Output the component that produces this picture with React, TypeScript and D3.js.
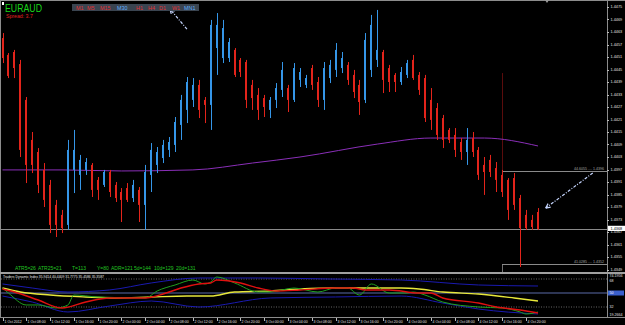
import React from "react";
import * as d3 from "d3";

const W = 625;
const H = 325;

const symbol = "EURAUD";
const spreadText = "Spread: 3.7";
const timeframes = ["M1", "M5", "M15", "M30", "H1", "H4", "D1", "W1", "MN1"];
const activeTimeframes = ["M30", "MN1"];

const open = [1.44601,1.44520,1.44534,1.44476,1.44304,1.44112,1.44054,1.43968,1.43896,1.43800,1.43752,1.43704,1.43968,1.43944,1.43968,1.43992,1.43920,1.43896,1.43958,1.43896,1.43862,1.43881,1.43833,1.43872,1.43800,1.43944,1.43992,1.44025,1.44064,1.44088,1.44184,1.44256,1.44304,1.44376,1.44304,1.44280,1.44553,1.44505,1.44505,1.44544,1.44496,1.44486,1.44376,1.44328,1.44313,1.44256,1.44304,1.44352,1.44361,1.44304,1.44400,1.44376,1.44457,1.44390,1.44304,1.44409,1.44448,1.44457,1.44472,1.44424,1.44376,1.44304,1.44448,1.44496,1.44534,1.44457,1.44424,1.44390,1.44424,1.44496,1.44424,1.44409,1.44304,1.44265,1.44217,1.44160,1.44136,1.44102,1.44054,1.44121,1.44064,1.43992,1.44016,1.43977,1.43944,1.43920,1.43929,1.43833,1.43752,1.43728,1.43766];
const high = [1.44625,1.44529,1.44544,1.44496,1.44318,1.44150,1.44073,1.44001,1.43920,1.43824,1.43776,1.44112,1.44160,1.44040,1.44025,1.44001,1.43934,1.43968,1.43968,1.43910,1.43881,1.43905,1.43920,1.43886,1.43992,1.44097,1.44078,1.44112,1.44126,1.44222,1.44328,1.44414,1.44409,1.44400,1.44318,1.44688,1.44721,1.44688,1.44601,1.44553,1.44505,1.44496,1.44400,1.44361,1.44328,1.44318,1.44385,1.44486,1.44376,1.44481,1.44457,1.44424,1.44472,1.44414,1.44486,1.44496,1.44577,1.44534,1.44486,1.44448,1.44400,1.44625,1.44712,1.44736,1.44544,1.44472,1.44433,1.44462,1.44496,1.44520,1.44438,1.44424,1.44361,1.44289,1.44232,1.44169,1.44169,1.44121,1.44169,1.44150,1.44078,1.44030,1.44040,1.44006,1.43968,1.43929,1.43953,1.43848,1.43776,1.43752,1.43785];
const low = [1.44481,1.44409,1.44409,1.44030,1.43905,1.43953,1.43857,1.43790,1.43665,1.43646,1.43665,1.43680,1.43857,1.43872,1.43944,1.43838,1.43824,1.43886,1.43838,1.43814,1.43718,1.43814,1.43814,1.43718,1.43680,1.43862,1.43953,1.44001,1.44030,1.44054,1.44112,1.44193,1.44270,1.44217,1.44193,1.44160,1.44424,1.44481,1.44486,1.44414,1.44414,1.44265,1.44256,1.44208,1.44222,1.44217,1.44265,1.44318,1.44246,1.44294,1.44366,1.44361,1.44352,1.44270,1.44256,1.44385,1.44414,1.44433,1.44376,1.44313,1.44232,1.44289,1.44414,1.44462,1.44337,1.44342,1.44342,1.44376,1.44409,1.44400,1.44328,1.44198,1.44160,1.44112,1.44073,1.44097,1.44030,1.44016,1.43992,1.44030,1.43920,1.43848,1.43934,1.43862,1.43838,1.43728,1.43776,1.43502,1.43680,1.43680,1.43680];
const close = [1.44505,1.44419,1.44457,1.44064,1.43992,1.43992,1.43896,1.43824,1.43704,1.43704,1.43689,1.44064,1.44064,1.44016,1.44006,1.43872,1.43872,1.43958,1.43862,1.43833,1.43824,1.43824,1.43896,1.43800,1.43958,1.44064,1.44054,1.44088,1.44102,1.44198,1.44304,1.44390,1.44376,1.44256,1.44280,1.44664,1.44664,1.44649,1.44582,1.44424,1.44438,1.44304,1.44313,1.44256,1.44270,1.44304,1.44361,1.44448,1.44304,1.44457,1.44438,1.44409,1.44376,1.44304,1.44457,1.44472,1.44544,1.44505,1.44400,1.44342,1.44294,1.44592,1.44664,1.44544,1.44400,1.44390,1.44390,1.44438,1.44481,1.44409,1.44352,1.44217,1.44208,1.44136,1.44112,1.44112,1.44064,1.44054,1.44112,1.44054,1.43944,1.43958,1.43958,1.43920,1.43862,1.43776,1.43800,1.43689,1.43689,1.43694,1.43684];

const priceLabels = [1.4475,1.4469,1.4463,1.4457,1.4451,1.4445,1.4439,1.4433,1.4427,1.4421,1.4415,1.4409,1.4403,1.4397,1.4391,1.4385,1.4379,1.4373,1.4367,1.4361,1.4355,1.4349];

const timeLabelBars = [0,4,8,12,16,20,24,28,32,36,40,44,48,52,56,60,64,68,72,76,80,84,88];
const timeLabels = ["1 Oct 2012","1 Oct 08:00","1 Oct 12:00","1 Oct 16:00","1 Oct 20:00","2 Oct 00:00","2 Oct 04:00","2 Oct 08:00","2 Oct 12:00","2 Oct 16:00","2 Oct 20:00","3 Oct 00:00","3 Oct 04:00","3 Oct 08:00","3 Oct 12:00","3 Oct 16:00","3 Oct 20:00","4 Oct 00:00","4 Oct 04:00","4 Oct 08:00","4 Oct 12:00","4 Oct 16:00","4 Oct 20:00"];

const maBars = [0,10,20,32,42,50,63,72,81,90];
const maValues = [1.43968,1.43968,1.43963,1.43968,1.44001,1.44030,1.44092,1.44121,1.44121,1.44083];

const currentPrice = 1.43684;
const boxStartBar = 84;
const boxTopPrice = 1.43963;
const boxBottomPrice = 1.43516;
const separatorTopPrice = 1.44433;
const boxTopLabel = "44.6055 ....  1.4396";
const boxBottomLabel = "41.0285 ....  1.4352";

// arrows: [tailBar, tailPrice, headBar, headPrice]
const arrow1 = [31.0, 1.44644, 28.15, 1.4474];
const arrow2 = [99.2, 1.43953, 91.3, 1.43785];

const infoItems = ["ATR5=26", "ATR25=21", "T=113", "Y=80", "ADR=121", "5d=144", "10d=129", "20d=131"];
const tdiTitle = "Traders Dynamic Index 35.9414 40.4409 31.7775 35.4586 35.3587";
const tdiLevels = [68, 50, 32];
const tdiMax = "74.1956";
const tdiMin = "19.2664";

const greenBars = [0,1,4,6,9,11,12,16,24,26,29,32,34,35,36,39,43,45,49,53,56,58,60,62,65,68,69,71,74,80,84,87,88,90];
const greenVals = [56.4,50.0,34.6,34.6,30.7,34.6,47.4,44.9,43.6,52.6,60.3,66.7,61.6,64.1,70.6,62.9,51.3,51.3,56.4,51.3,56.4,56.4,47.4,61.6,50.0,50.0,51.3,47.4,38.4,32.0,30.7,25.6,23.0,25.6];
const redBars = [0,2,6,10,14,18,24,27,30,33,35,36,40,43,46,50,56,59,61,65,70,72,74,80,83,87,90];
const redVals = [55.1,51.3,41.0,30.7,38.4,43.6,43.6,48.7,56.4,61.6,62.9,66.7,62.9,56.4,52.6,53.9,56.4,56.4,53.9,53.9,50.0,50.0,43.6,37.1,32.0,28.1,24.3];
const yellowBars = [0,3,8,14,19,25,31,35,39,45,50,56,61,67,70,74,80,86,90];
const yellowVals = [56.4,51.3,47.4,44.9,43.6,44.9,46.1,46.1,51.3,52.6,55.1,56.4,56.4,56.4,55.1,51.3,48.7,43.6,39.7];
const upperBars = [0,5,11,18,25,33,43,55,67,80,90];
const upperVals = [61.6,56.4,51.3,53.9,62.9,69.3,69.3,68.0,66.7,60.3,59.0];
const lowerBars = [0,5,11,18,25,33,45,56,67,74,80,90];
const lowerVals = [46.1,38.4,25.6,33.3,39.7,32.0,43.6,44.9,46.1,37.1,29.4,23.0];

const RED = "#e3241b";
const BLUE = "#3596e8";
const FONT = "'Liberation Sans', Arial, sans-serif";

export default function App() {
  const x = d3.scaleLinear().domain([0, 90]).range([2.5, 538]);
  const y = d3.scaleLinear().domain([priceLabels[0], priceLabels[priceLabels.length - 1]]).range([7, 269.5]);
  const ys = d3.scaleLinear().domain([tdiLevels[2], tdiLevels[0]]).range([307, 279]);
  const px = (i: number) => Math.round(x(i));

  const maPath = d3.line<number>().x((_, i) => x(maBars[i])).y((d) => y(d)).curve(d3.curveMonotoneX)(maValues) || "";
  const sub = (bars: number[], vals: number[]) =>
    d3.line<number>().x((_, i) => x(bars[i])).y((d) => ys(d)).curve(d3.curveMonotoneX)(vals) || "";

  const arrow = (a: number[], key: string) => {
    const tx = x(a[0]), ty = y(a[1]), hx = x(a[2]), hy = y(a[3]);
    const ang = Math.atan2(ty - hy, tx - hx);
    const L = 5, s = 0.45;
    return (
      <g key={key} stroke="#c6d6ff" strokeWidth={1.2} fill="none">
        <line x1={tx} y1={ty} x2={hx} y2={hy} strokeDasharray="3,1.5,1,1.5" />
        <line x1={hx} y1={hy} x2={hx + L * Math.cos(ang + s)} y2={hy + L * Math.sin(ang + s)} />
        <line x1={hx} y1={hy} x2={hx + L * Math.cos(ang - s)} y2={hy + L * Math.sin(ang - s)} />
      </g>
    );
  };

  const tfX = [76, 87, 100, 117, 136, 148, 159, 172, 184];
  const infoX = [15, 38, 72, 97, 111, 134, 154, 176];
  const bx = px(boxStartBar);
  const cpY = y(currentPrice);

  return (
    <svg width={W} height={H} style={{ position: "fixed", left: 0, top: 0, display: "block" }} fontFamily={FONT}>
      <defs>
        <clipPath id="mainClip"><rect x={1} y={1} width={606} height={271} /></clipPath>
        <clipPath id="subClip"><rect x={1} y={274} width={606} height={43} /></clipPath>
      </defs>
      <rect width={W} height={H} fill="#000" />

      {/* borders */}
      <rect x={0} y={0} width={W} height={1} fill="#8c8c8c" />
      <rect x={0} y={0} width={1} height={317} fill="#8c8c8c" />
      <rect x={607} y={0} width={1} height={317} fill="#8c8c8c" />
      <rect x={0} y={272} width={W} height={2} fill="#a0a0a0" />
      <rect x={0} y={317} width={W} height={1} fill="#8c8c8c" />

      <g clipPath="url(#mainClip)">
        {/* separator + box lines */}
        <rect x={bx} y={y(separatorTopPrice)} width={1} height={y(boxTopPrice) - y(separatorTopPrice)} fill="#5a0c0c" />
        <rect x={bx} y={y(boxBottomPrice)} width={1} height={272 - y(boxBottomPrice)} fill="#707070" />
        <rect x={bx} y={Math.round(y(boxTopPrice))} width={607 - bx} height={1} fill="#8a8a8a" />
        <rect x={bx} y={Math.round(y(boxBottomPrice))} width={607 - bx} height={1} fill="#8a8a8a" />
        {/* price line */}
        <rect x={0} y={Math.round(cpY)} width={607} height={1} fill="#8a8a8a" />
        {/* moving average */}
        <path d={maPath} fill="none" stroke="#8a2fb8" strokeWidth={1} />
        {/* bars */}
        {open.map((o, i) => {
          const c = close[i];
          const col = c >= o ? BLUE : RED;
          const cx = px(i);
          const yt = y(Math.max(o, c));
          const yb = y(Math.min(o, c));
          return (
            <g key={i}>
              <rect x={cx} y={y(high[i])} width={1} height={y(low[i]) - y(high[i])} fill={col} />
              <rect x={cx - 1} y={yt} width={2} height={Math.max(1, yb - yt)} fill={col} />
            </g>
          );
        })}
        {arrow(arrow1, "a1")}
        {arrow(arrow2, "a2")}
        <text x={604} y={y(boxTopPrice) - 1.2} fontSize={3.6} fill="#a8a8a8" textAnchor="end">{boxTopLabel}</text>
        <text x={604} y={y(boxBottomPrice) - 1.2} fontSize={3.6} fill="#a8a8a8" textAnchor="end">{boxBottomLabel}</text>
      </g>

      {/* header */}
      <rect x={2} y={2} width={2} height={3} fill="#fff" />
      <text x={5} y={11.7} fontSize={10.5} fill="#19d419" textLength={37} lengthAdjust="spacingAndGlyphs">{symbol}</text>
      <text x={6} y={17.5} fontSize={5.2} fill="#e02020">{spreadText}</text>
      <rect x={72} y={4} width={127} height={7} fill="#3a4450" />
      {timeframes.map((t, i) => (
        <text key={t} x={tfX[i]} y={9.8} fontSize={5.4} fill={activeTimeframes.includes(t) ? "#5ab0ff" : "#e23030"}>{t}</text>
      ))}
      <path d="M545,0 L549,0 L547,3 Z" fill="#9a9a9a" />

      {/* right price axis */}
      {priceLabels.map((p) => (
        <g key={p}>
          <rect x={607} y={Math.round(y(p))} width={2} height={1} fill="#bbb" />
          <text x={610.5} y={y(p) + 1.4} fontSize={3.8} fill="#e0e0e0">{p.toFixed(4)}</text>
        </g>
      ))}
      <rect x={608} y={cpY - 3.3} width={17} height={5.2} fill="#fff" />
      <text x={610.5} y={cpY + 0.9} fontSize={3.8} fill="#000">{currentPrice.toFixed(4)}</text>

      {/* info row */}
      {infoItems.map((t, i) => (
        <text key={t} x={infoX[i]} y={270.3} fontSize={5} fill="#22c422">{t}</text>
      ))}

      {/* TDI sub panel */}
      <g clipPath="url(#subClip)">
        <line x1={1} x2={607} y1={ys(tdiLevels[0])} y2={ys(tdiLevels[0])} stroke="#808080" strokeDasharray="1,1.5" strokeWidth={0.8} />
        <line x1={1} x2={607} y1={ys(tdiLevels[2])} y2={ys(tdiLevels[2])} stroke="#808080" strokeDasharray="1,1.5" strokeWidth={0.8} />
        <line x1={1} x2={607} y1={ys(tdiLevels[1])} y2={ys(tdiLevels[1])} stroke="#5a6aa8" strokeWidth={1} />
        <path d={sub(upperBars, upperVals)} fill="none" stroke="#1a1ab0" strokeWidth={1} />
        <path d={sub(lowerBars, lowerVals)} fill="none" stroke="#1a1ab0" strokeWidth={1} />
        <path d={sub(yellowBars, yellowVals)} fill="none" stroke="#e8e83a" strokeWidth={1.4} />
        <path d={sub(greenBars, greenVals)} fill="none" stroke="#1fa01f" strokeWidth={1} />
        <path d={sub(redBars, redVals)} fill="none" stroke="#e01010" strokeWidth={1.4} />
      </g>
      <text x={3} y={277.8} fontSize={3.4} fill="#e8e8e8">{tdiTitle}</text>
      <text x={609.5} y={277.2} fontSize={3.6} fill="#e0e0e0">{tdiMax}</text>
      <text x={609.5} y={281.5} fontSize={3.6} fill="#e0e0e0">{tdiLevels[0]}</text>
      <rect x={608} y={ys(tdiLevels[1]) - 2.5} width={16} height={5} fill="#3a5fcd" />
      <text x={609.5} y={ys(tdiLevels[1]) + 1.3} fontSize={3.6} fill="#fff">{tdiLevels[1]}</text>
      <text x={609.5} y={ys(tdiLevels[2]) + 1.3} fontSize={3.6} fill="#e0e0e0">{tdiLevels[2]}</text>
      <text x={609.5} y={316} fontSize={3.6} fill="#e0e0e0">{tdiMin}</text>

      {/* time axis */}
      {timeLabelBars.map((b, i) => (
        <g key={b}>
          <rect x={px(b)} y={318} width={1} height={3} fill="#bbb" />
          <text x={px(b) + 1.5} y={322.8} fontSize={3.5} fill="#e0e0e0">{timeLabels[i]}</text>
        </g>
      ))}
    </svg>
  );
}
